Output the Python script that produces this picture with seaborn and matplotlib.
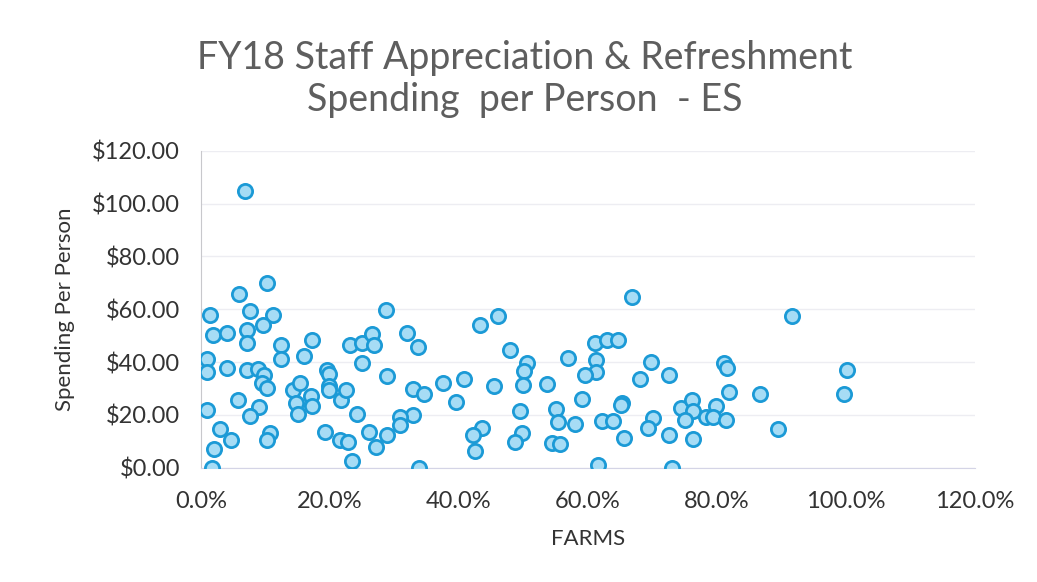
import matplotlib
matplotlib.use("Agg")
import matplotlib.pyplot as plt
import matplotlib.ticker as mticker
import numpy as np
import pandas as pd
import seaborn as sns

# FARMS share (%) and spending per person ($)
farms_pct = [
    6.9, 10.2, 5.9, 1.4, 7.6, 11.2, 1.8, 4.0, 7.2, 9.6, 7.2, 12.4, 17.2, 12.4, 16.0,
    1.0, 1.0, 4.0, 7.2, 8.8, 9.8, 9.5, 10.3, 14.3, 15.3, 14.8, 17.0, 17.2, 15.0, 19.5,
    19.9, 19.9, 19.8, 21.7, 22.5, 24.2, 23.1, 24.9, 26.5, 26.9, 25.0, 28.7, 28.8, 28.8,
    5.8, 9.0, 7.6, 0.9, 2.9, 4.7, 2.0, 1.7, 10.7, 10.2, 19.2, 21.6, 22.8, 23.4, 26.0, 27.1,
    32.0, 33.7, 32.8, 34.6, 37.6, 40.8, 39.5, 32.8, 30.9, 30.9, 33.8, 43.3, 46.1, 47.9,
    50.5, 50.1, 49.9, 45.4, 53.7, 56.9, 49.5, 55.1, 55.3, 58.0, 49.7, 48.7, 54.4, 55.7,
    43.6, 42.2, 42.5,
    66.9, 61.1, 62.9, 64.6, 61.3, 61.2, 59.5, 69.7, 68.1, 72.5, 59.1, 65.3, 65.1, 62.2,
    63.9, 70.1, 69.3, 65.6, 72.6, 76.3, 61.6, 73.1, 81.1, 81.5, 81.8, 86.7, 74.4, 76.2,
    76.3, 75.0, 79.8, 78.3, 79.4, 81.4,
    91.7, 100.2, 99.7, 89.5,
]
spending = [
    104.7, 70.0, 65.7, 57.9, 59.5, 57.7, 50.2, 51.0, 52.1, 54.1, 47.3, 46.4, 48.2, 41.3, 42.4,
    41.0, 36.4, 37.9, 37.0, 37.5, 35.0, 32.1, 30.2, 29.5, 32.1, 24.5, 27.0, 23.2, 20.4, 37.1,
    35.6, 31.1, 29.3, 25.5, 29.5, 20.5, 46.4, 47.1, 50.8, 46.4, 39.5, 59.7, 34.6, 12.2,
    25.5, 23.0, 19.4, 21.7, 14.6, 10.5, 7.0, 0.0, 13.1, 10.5, 13.7, 10.3, 9.9, 2.7, 13.7, 7.8,
    51.1, 45.6, 29.9, 27.9, 32.1, 33.6, 24.9, 20.0, 19.2, 16.0, 0.0, 54.0, 57.4, 44.4,
    39.7, 36.5, 31.4, 31.1, 31.8, 41.6, 21.6, 22.2, 17.3, 16.6, 13.3, 9.9, 9.5, 8.9,
    15.2, 12.2, 6.3,
    64.6, 47.3, 48.2, 48.2, 40.6, 36.3, 35.2, 39.9, 33.6, 35.0, 26.0, 24.5, 23.7, 17.6,
    17.6, 18.8, 15.2, 11.2, 12.2, 10.8, 1.0, 0.0, 39.7, 37.8, 28.5, 28.0, 22.6, 25.5,
    21.3, 17.9, 23.2, 19.2, 19.2, 17.9,
    57.4, 37.1, 27.9, 14.7,
]

df = pd.DataFrame({"FARMS": np.array(farms_pct) / 100.0, "Spending": spending})

sns.set_style("white")
plt.rcParams["font.family"] = ["Lato", "DejaVu Sans"]

fig = plt.figure(figsize=(10.37, 5.82), dpi=100)
ax = fig.add_axes([0.1938, 0.1964, 0.7464, 0.5445])

sns.scatterplot(data=df, x="FARMS", y="Spending", ax=ax, s=105,
                color="#a6dcf5", edgecolor="#1b9ad6", linewidth=2.0, zorder=3)

ax.set_xlim(0, 1.2)
ax.set_ylim(0, 120)
ax.xaxis.set_major_locator(mticker.MultipleLocator(0.2))
ax.yaxis.set_major_locator(mticker.MultipleLocator(20))
ax.xaxis.set_major_formatter(mticker.FuncFormatter(lambda v, p: f"{v*100:.1f}%"))
ax.yaxis.set_major_formatter(mticker.FuncFormatter(lambda v, p: f"${v:.2f}"))

ax.grid(axis="y", color="#ededf2", linewidth=1.0)
ax.grid(axis="x", visible=False)
for side in ["top", "right"]:
    ax.spines[side].set_visible(False)
ax.spines["left"].set_color("#c8c8cc")
ax.spines["bottom"].set_color("#d4d4e6")
ax.tick_params(axis="y", length=0, labelsize=17, colors="#333333", pad=15)
ax.tick_params(axis="x", length=0, labelsize=17, colors="#333333", pad=17)

ax.set_xlabel("FARMS", fontsize=16, color="#333333", labelpad=12)
ax.set_ylabel("Spending Per Person", fontsize=16, color="#333333", labelpad=12)

fig.text(0.506, 0.90, "FY18 Staff Appreciation & Refreshment", ha="center",
         va="center", fontsize=27, color="#5e5e5e")
fig.text(0.506, 0.828, "Spending  per Person  - ES", ha="center",
         va="center", fontsize=27, color="#5e5e5e")

fig.savefig("out.png", dpi=100)
